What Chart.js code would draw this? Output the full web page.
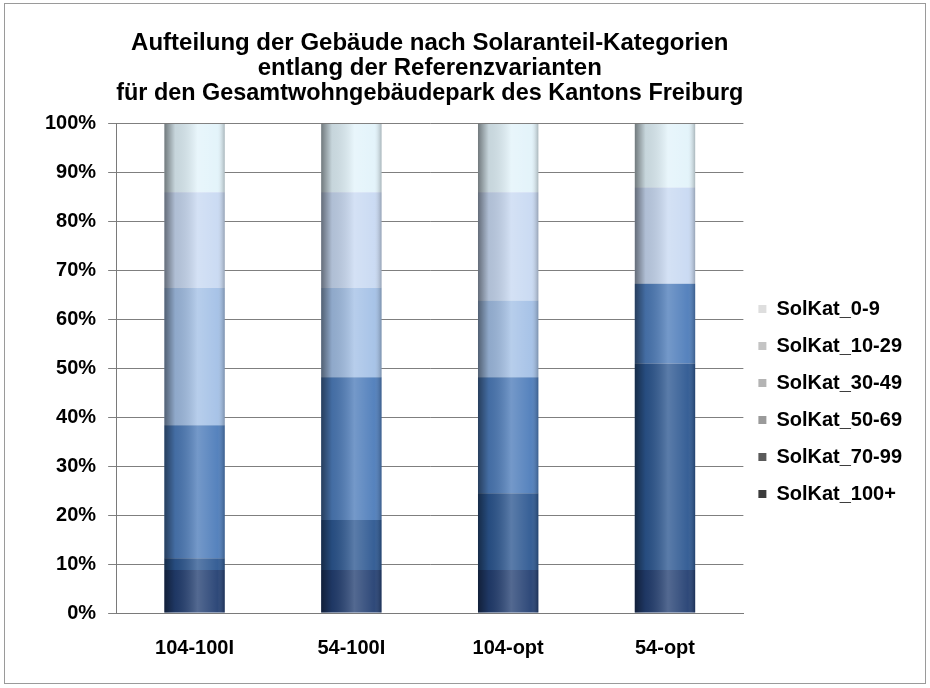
<!DOCTYPE html>
<html>
<head>
<meta charset="utf-8">
<script src="https://cdn.jsdelivr.net/npm/chart.js@4"></script>
<style>
  body { margin: 0; background: #fff; }
  #box { width: 930px; height: 688px; }
</style>
</head>
<body>
<div id="box"><canvas id="myChart" width="930" height="688"></canvas></div>
<script>
'use strict';

// categories (variants) and tick labels
let variants = ['104-100I', '54-100I', '104-opt', '54-opt'];
let yTicks = [0, 10, 20, 30, 40, 50, 60, 70, 80, 90, 100];

// share of buildings per solar category, percent
let kat100 = [8.8, 8.8, 8.8, 8.8];
let kat70 = [2.4, 10.2, 15.7, 42.2];
let kat50 = [27.2, 29.2, 23.7, 16.3];
let kat30 = [28.1, 18.3, 15.7, 0];
let kat10 = [19.5, 19.5, 22.1, 19.7];
let kat0 = [14.0, 14.0, 14.0, 13.0];

let names = ['SolKat_100+', 'SolKat_70-99', 'SolKat_50-69', 'SolKat_30-49', 'SolKat_10-29', 'SolKat_0-9'];
let values = [kat100, kat70, kat50, kat30, kat10, kat0];

// colours, bottom to top
let fills = ['#233f72', '#2c5791', '#4d7cba', '#a3c0e6', '#c8d9f2', '#e2f3fa'];
let legendFills = ['#3c3c3c', '#5a5a5a', '#9a9a9a', '#b4b4b4', '#c4c4c4', '#dedede'];

let fontFam = '"Liberation Sans", Arial, sans-serif';

let datasets = [];
for (let i = 0; i < names.length; i++) {
    datasets.push({
        label: names[i],
        data: values[i],
        backgroundColor: fills[i],
        borderWidth: 0,
        barPercentage: 0.385,
        categoryPercentage: 1
    });
}

// frame round the whole picture
let framePlugin = {
    id: 'frame',
    beforeDraw(chart) {
        let c = chart.ctx;
        c.save();
        c.fillStyle = '#fff';
        c.fillRect(0, 0, chart.width, chart.height);
        c.strokeStyle = '#9a9a9a';
        c.lineWidth = 1;
        c.strokeRect(4.5, 3.5, 921, 680);
        c.restore();
    }
};

// move the legend lower, like in the original
let legendShift = {
    id: 'legendShift',
    afterLayout(chart) {
        let lg = chart.legend;
        lg.top += 55;
        lg.bottom += 55;
        lg.left -= 2;
        lg.right -= 2;
    }
};

// cylinder like shading laid over each column
let shadePlugin = {
    id: 'shade',
    afterDatasetsDraw(chart) {
        let c = chart.ctx;
        let first = chart.getDatasetMeta(0).data;
        let last = chart.getDatasetMeta(datasets.length - 1).data;
        for (let j = 0; j < first.length; j++) {
            let el = first[j];
            let left = el.x - el.width / 2;
            let right = el.x + el.width / 2;
            let top = last[j].y;
            let bottom = el.base;
            let g = c.createLinearGradient(left, 0, right, 0);
            g.addColorStop(0, 'rgba(0,0,0,0.5)');
            g.addColorStop(0.18, 'rgba(0,0,0,0.12)');
            g.addColorStop(0.55, 'rgba(255,255,255,0.22)');
            g.addColorStop(0.88, 'rgba(255,255,255,0.05)');
            g.addColorStop(1, 'rgba(0,0,0,0.25)');
            c.save();
            c.fillStyle = g;
            c.fillRect(left, top, right - left, bottom - top);
            c.restore();
        }
    }
};

let ctx = document.getElementById('myChart').getContext('2d');
let chart = new Chart(ctx, {
    type: 'bar',
    data: {
        labels: variants,
        datasets: datasets
    },
    options: {
        responsive: false,
        animation: false,
        layout: { padding: { top: 10, left: 33, right: 16, bottom: 5 } },
        plugins: {
            title: {
                display: true,
                fullSize: false,
                text: ['Aufteilung der Gebäude nach Solaranteil-Kategorien',
                       'entlang der Referenzvarianten',
                       'für den Gesamtwohngebäudepark des Kantons Freiburg'],
                color: '#000',
                font: { family: fontFam, size: 24, weight: 'bold', lineHeight: 1.04 },
                padding: { top: 21, bottom: 18 }
            },
            legend: {
                position: 'right',
                reverse: true,
                labels: {
                    color: '#000',
                    font: { family: fontFam, size: 20, weight: 'bold' },
                    boxWidth: 8,
                    boxHeight: 8,
                    padding: 17,
                    generateLabels(ch) {
                        return ch.data.datasets.map((ds, i) => ({
                            text: ds.label,
                            fillStyle: legendFills[i],
                            strokeStyle: legendFills[i],
                            lineWidth: 0,
                            datasetIndex: i
                        }));
                    }
                }
            },
            tooltip: { enabled: false }
        },
        scales: {
            x: {
                stacked: true,
                grid: { display: false },
                border: { color: '#7a7a7a' },
                afterFit(axis) {
                    axis.height = 70;
                },
                ticks: {
                    color: '#000',
                    padding: 15,
                    font: { family: fontFam, size: 20, weight: 'bold' }
                }
            },
            y: {
                stacked: true,
                min: 0,
                max: 100,
                afterBuildTicks(axis) {
                    axis.ticks = yTicks.map(v => ({ value: v }));
                },
                grid: { color: '#7f7f7f', tickLength: 8 },
                border: { color: '#7a7a7a' },
                ticks: {
                    color: '#000',
                    padding: 12,
                    font: { family: fontFam, size: 20, weight: 'bold' },
                    callback: v => v + '%'
                }
            }
        }
    },
    plugins: [framePlugin, legendShift, shadePlugin]
});
</script>
</body>
</html>
